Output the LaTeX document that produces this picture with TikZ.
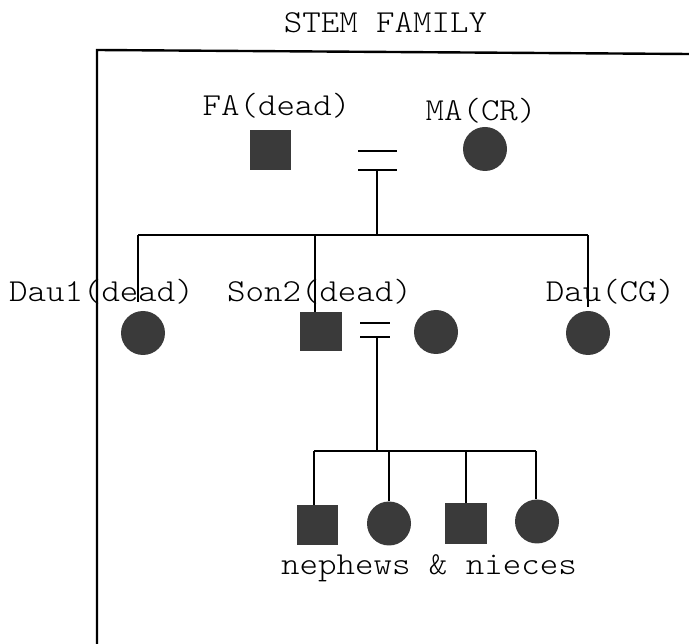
\documentclass[tikz,border=0pt]{standalone}
\usepackage{fontspec}
\newfontfamily\pedfont[FakeStretch=1.1]{Latin Modern Mono Light}
\definecolor{symfill}{RGB}{58,58,58}
\tikzset{
  lbl/.style={font=\pedfont\fontsize{32}{36}\selectfont, inner sep=0pt, anchor=base},
  male/.style={rectangle, fill=symfill, inner sep=0pt, minimum width=41pt, minimum height=40pt},
  female/.style={circle, fill=symfill, inner sep=0pt, minimum size=44pt},
  tie/.style={line width=2pt, black},
  border/.style={line width=2.4pt, black}
}
\begin{document}
\begin{tikzpicture}[x=1pt,y=-1pt]
\useasboundingbox (0,0) rectangle (689,644);

% title and open frame
\node[lbl] (title) at (385.5,33) {STEM FAMILY};
\coordinate (frameTL) at (97,50);
\coordinate (frameTR) at (689,54);
\coordinate (frameBL) at (97,644);
\draw[border] (frameTR) -- (frameTL) -- (frameBL);

% first generation
\node[lbl] (lfa) at (276.5,116) {FA(dead)};
\node[lbl] (lma) at (481,121) {MA(CR)};
\node[male] (fa) at (270.5,150.5) {};
\node[female] (ma) at (485,149) {};
\coordinate (m1a) at (358,151); \coordinate (m1b) at (397,151);
\coordinate (m1c) at (358,170); \coordinate (m1d) at (397,170);
\draw[tie] (m1a) -- (m1b);
\draw[tie] (m1c) -- (m1d);
\coordinate (m1) at (377,170);
\coordinate (s1) at (377,235.5);
\draw[tie] (m1) -- (s1);

% second generation
\node[lbl] (ldau1) at (101.5,302) {Dau1(dead)};
\node[lbl] (lson2) at (319.5,302) {Son2(dead)};
\node[lbl] (ldau) at (610.5,302) {Dau(CG)};
\node[female] (dau1) at (143,333) {};
\node[male, minimum width=42pt, minimum height=39pt] (son2) at (321,331.5) {};
\node[female] (wife) at (436,332) {};
\node[female] (dau) at (588,333) {};

\coordinate (s1l) at (138,235.5);
\coordinate (s1r) at (588,235.5);
\draw[tie] (s1l) -- (s1r);
\coordinate (e1) at (138,302);
\coordinate (e3) at (588,307);
\draw[tie] (s1l) -- (e1);
\draw[tie] (s1 -| 315,0) -- (son2.north -| 315,0);
\draw[tie] (s1r) -- (e3);

\coordinate (m2a) at (360,323); \coordinate (m2b) at (390,323);
\coordinate (m2c) at (360,337); \coordinate (m2d) at (390,337);
\draw[tie] (m2a) -- (m2b);
\draw[tie] (m2c) -- (m2d);
\coordinate (m2) at (377,337);
\coordinate (s2) at (377,451.5);
\draw[tie] (m2) -- (s2);

% third generation
\node[male] (k1) at (317.5,525.5) {};
\node[female] (k2) at (389,523.5) {};
\node[male, minimum width=42pt, minimum height=41pt] (k3) at (466,523.5) {};
\node[female, minimum size=44pt] (k4) at (537,521.5) {};
\node[lbl] (lkids) at (429,574) {nephews \& nieces};

\coordinate (s2l) at (314,451.5);
\coordinate (s2r) at (536,451.5);
\draw[tie] (s2l) -- (s2r);
\draw[tie] (s2l) -- (k1.north -| s2l);
\draw[tie] (s2 -| k2.north) -- (k2.north);
\draw[tie] (s2 -| k3.north) -- (k3.north);
\draw[tie] (s2r) -- (k4.north -| s2r);
\end{tikzpicture}
\end{document}
